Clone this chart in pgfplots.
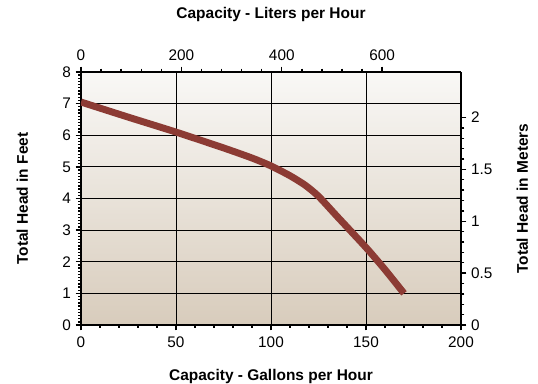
\documentclass[border=0pt]{standalone}
\usepackage{pgfplots}
\pgfplotsset{compat=1.18}
\usepackage{fontspec}
\setmainfont{Liberation Sans}
\definecolor{curve}{HTML}{8C3B34}
\definecolor{bgtop}{HTML}{F9F8F6}
\definecolor{bgbot}{HTML}{D8CCBC}
\begin{document}
\begin{tikzpicture}
\useasboundingbox (-60.75pt,-44.25pt) rectangle (342.75pt,243.75pt);
\pgfplotsset{
  common/.style={
    scale only axis, width=285pt, height=189.75pt,
    at={(0,0)}, anchor=south west,
    tick align=outside,
    major tick length=4pt, minor tick length=2.6pt,
    every tick/.style={black, line width=1pt},
    axis line style={line width=1.5pt},
    tick label style={font=\fontsize{11.5}{13}\selectfont},
    label style={font=\bfseries\fontsize{11.6}{13}\selectfont},
    /pgf/number format/assume math mode=true,
  }
}
\begin{axis}[common,
  xmin=0, xmax=200, ymin=0, ymax=8,
  axis x line*=bottom, axis y line*=left,
  xtick={0,50,100,150,200}, minor x tick num=4,
  ytick={0,1,...,8}, minor y tick num=9,
  minor tick length=2.2pt,
  grid=major, major grid style={black, line width=0.7pt},
  axis background/.style={top color=bgtop, bottom color=bgbot},
  xlabel={Capacity - Gallons per Hour},
  ylabel={Total Head in Feet},
  xlabel style={at={(axis description cs:0.5,0)}, anchor=center, yshift=-39pt},
  ylabel style={at={(axis description cs:-0.1544,0.5)}, anchor=center},
  xticklabel style={yshift=-1pt},
]
\addplot[curve, line width=5.2pt, line cap=butt, line join=round, smooth, tension=0.4] coordinates {
  (0,7.05) (25,6.57) (50,6.1) (75,5.6) (90,5.28) (100,5.03)
  (110,4.72) (118,4.42) (125,4.07) (135,3.42) (150,2.45) (160,1.75) (170,1.0)
};
\end{axis}
\begin{axis}[common,
  xmin=0, xmax=757.08, ymin=0, ymax=2.4384,
  axis x line*=top, axis y line*=right,
  xtick={0,200,400,600}, minor x tick num=4,
  ytick={0,0.5,1,1.5,2}, minor y tick num=4,
  yticklabels={0,0.5,1,1.5,2},
  xlabel={Capacity - Liters per Hour},
  ylabel={Total Head in Meters},
  xlabel style={at={(axis description cs:0.5,1)}, anchor=center, yshift=42.75pt},
  ylabel style={at={(axis description cs:1.1614,0.5)}, anchor=center},
  xticklabel style={yshift=1pt},
]
\end{axis}
\end{tikzpicture}
\end{document}
